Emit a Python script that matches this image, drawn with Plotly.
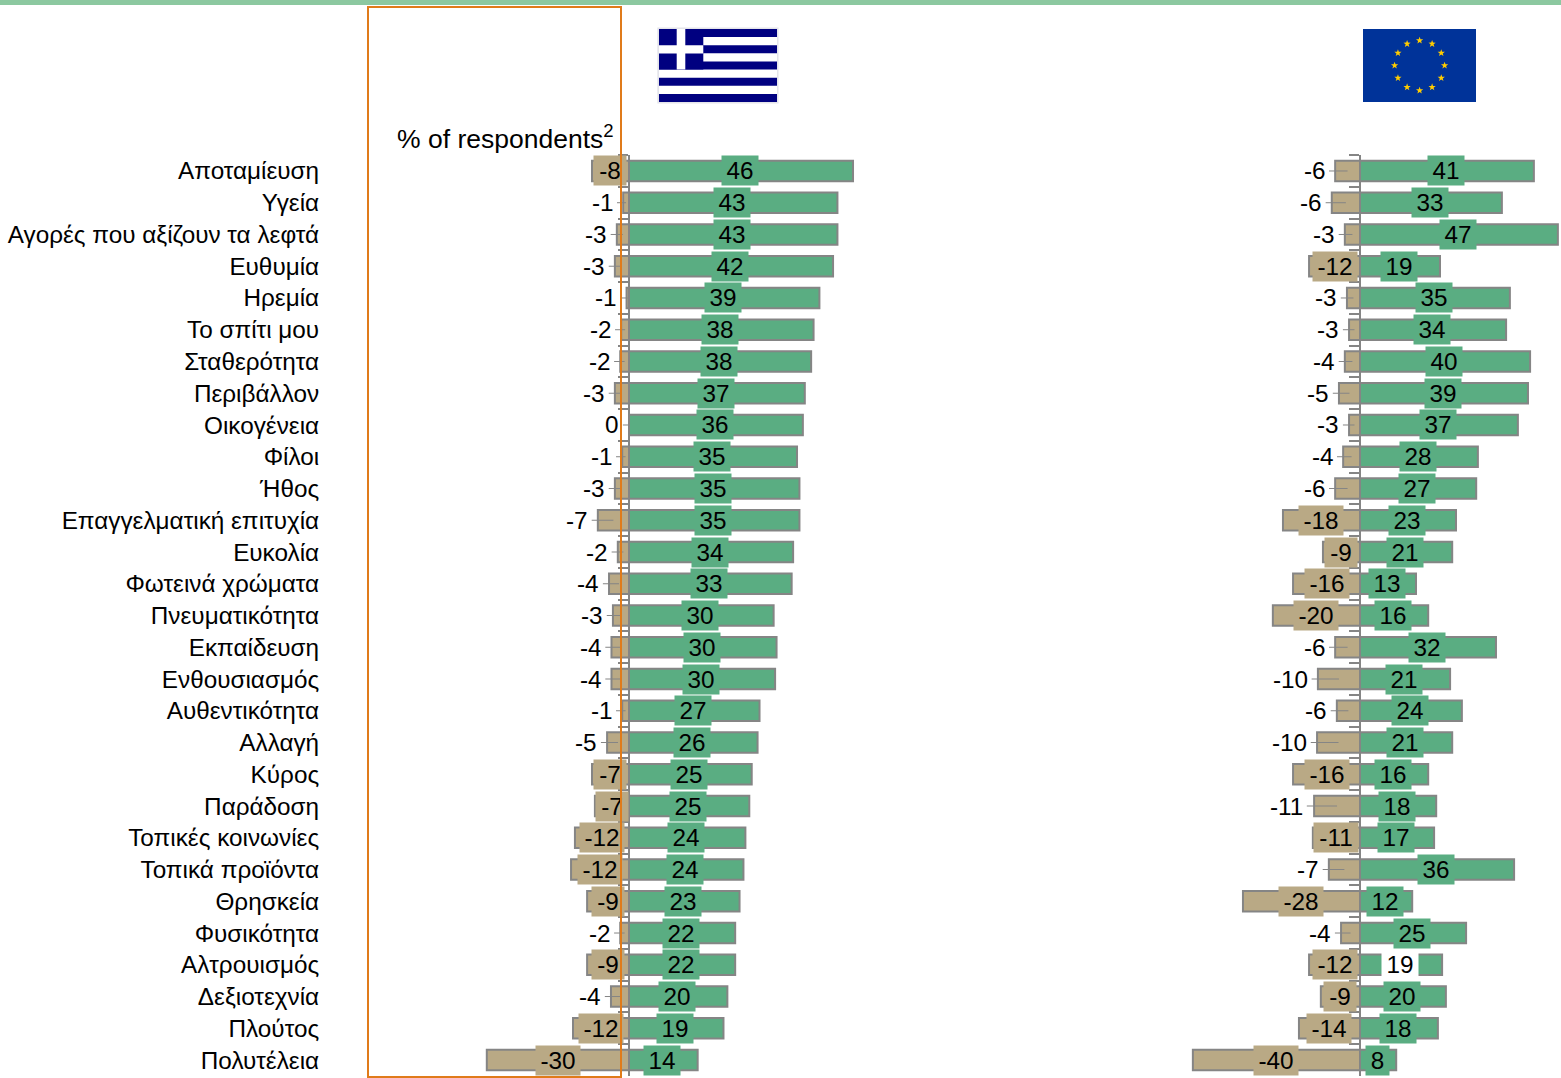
import math
import plotly.graph_objects as go

W, H = 1561, 1078

categories = ["Αποταμίευση", "Υγεία", "Αγορές που αξίζουν τα λεφτά", "Ευθυμία", "Ηρεμία", "Το σπίτι μου",
              "Σταθερότητα", "Περιβάλλον", "Οικογένεια", "Φίλοι", "Ήθος", "Επαγγελματική επιτυχία", "Ευκολία",
              "Φωτεινά χρώματα", "Πνευματικότητα", "Εκπαίδευση", "Ενθουσιασμός", "Αυθεντικότητα", "Αλλαγή",
              "Κύρος", "Παράδοση", "Τοπικές κοινωνίες", "Τοπικά προϊόντα", "Θρησκεία", "Φυσικότητα",
              "Αλτρουισμός", "Δεξιοτεχνία", "Πλούτος", "Πολυτέλεια"]

gr_pos = [46.0, 42.8, 42.8, 41.9, 39.1, 37.9, 37.4, 36.1, 35.7, 34.5, 35.0, 35.0, 33.7, 33.4, 29.7, 30.3, 30.0,
          26.8, 26.4, 25.2, 24.7, 23.9, 23.5, 22.7, 21.8, 21.8, 20.2, 19.4, 14.1]
gr_neg = [-7.6, -1.2, -2.5, -2.9, -0.5, -1.6, -1.8, -2.9, 0.0, -1.4, -2.9, -6.4, -2.3, -4.1, -3.3, -3.6, -3.6,
          -1.4, -4.5, -7.6, -7.0, -11.1, -11.9, -8.6, -1.8, -8.6, -3.7, -11.5, -29.2]
gr_pos_labels = [46, 43, 43, 42, 39, 38, 38, 37, 36, 35, 35, 35, 34, 33, 30, 30, 30, 27, 26, 25, 25, 24, 24, 23,
                 22, 22, 20, 19, 14]
gr_neg_labels = [-8, -1, -3, -3, -1, -2, -2, -3, 0, -1, -3, -7, -2, -4, -3, -4, -4, -1, -5, -7, -7, -12, -12, -9,
                 -2, -9, -4, -12, -30]

eu_pos = [41.3, 33.7, 47.0, 19.0, 35.6, 34.7, 40.4, 39.9, 37.5, 28.0, 27.6, 22.8, 21.9, 13.3, 16.2, 32.3, 21.4,
          24.2, 21.9, 16.2, 18.1, 17.6, 36.6, 12.4, 25.2, 19.5, 20.4, 18.5, 8.6]
eu_neg = [-5.9, -6.7, -3.6, -12.1, -3.1, -2.6, -3.6, -5.0, -2.6, -4.0, -5.9, -18.3, -8.8, -15.9, -20.7, -5.9,
          -10.0, -5.5, -10.2, -15.9, -10.9, -11.2, -7.4, -27.8, -4.5, -12.1, -9.3, -14.5, -39.7]
eu_pos_labels = [41, 33, 47, 19, 35, 34, 40, 39, 37, 28, 27, 23, 21, 13, 16, 32, 21, 24, 21, 16, 18, 17, 36, 12,
                 25, 19, 20, 18, 8]
eu_neg_labels = [-6, -6, -3, -12, -3, -3, -4, -5, -3, -4, -6, -18, -9, -16, -20, -6, -10, -6, -10, -16, -11, -11,
                 -7, -28, -4, -12, -9, -14, -40]
eu_white_label_row = "Αλτρουισμός"

axis_title = "% of respondents<sup>2</sup>"

GREEN, TAN, GREY = "#5AAD82", "#B9A985", "#858585"
FONT = "Liberation Sans"
FS = 24.3
PLOT_TOP, PLOT_BOT = 155.1, 1075.9


def px(x): return x / W
def py(y): return 1 - y / H


def rect(x0, y0, x1, y1, color):
    return dict(type="rect", xref="paper", yref="paper", x0=px(x0), x1=px(x1), y0=py(y0), y1=py(y1),
                fillcolor=color, line_width=0, layer="below")


def text_w(label):
    s = str(label)
    return 13.3 * sum(c.isdigit() for c in s) + 8 * ("-" in s)


def panel_annotations(pos, neg, pos_labels, neg_labels, xref, yref, scale):
    out = []
    for cat, p, n, pl, nl in zip(categories, pos, neg, pos_labels, neg_labels):
        box_p = 10 + 13 * len(str(pl))
        white = (xref == "x2" and cat == eu_white_label_row)
        out.append(dict(x=p / 2, y=cat, xref=xref, yref=yref, text=str(pl), showarrow=False, width=box_p, height=29,
                        xshift=-1, bgcolor="#FFFFFF" if white else GREEN, borderpad=0,
                        font=dict(family=FONT, size=FS, color="#000")))
        s = str(nl)
        box_n = 44 if len(s) == 3 else 32
        w = abs(n) * scale
        if w >= box_n + 2:
            out.append(dict(x=n / 2, y=cat, xref=xref, yref=yref, text=s, showarrow=False, width=box_n, height=29,
                            bgcolor=TAN, borderpad=0, font=dict(family=FONT, size=FS, color="#000")))
        else:
            out.append(dict(x=n / 2, y=cat, xref=xref, yref=yref, text=s, showarrow=True, arrowhead=0,
                            arrowwidth=1, arrowcolor=GREY, ax=-(w / 2 + text_w(s) / 2 + 10), ay=0, axref="pixel",
                            ayref="pixel", standoff=0, borderpad=3, font=dict(family=FONT, size=FS, color="#000")))
    return out


fig = go.Figure()
bar_style = dict(orientation="h", width=0.65, marker_line=dict(color=GREY, width=2), hoverinfo="skip", showlegend=False)
fig.add_bar(y=categories, x=gr_neg, marker_color=TAN, xaxis="x", yaxis="y", **bar_style)
fig.add_bar(y=categories, x=gr_pos, marker_color=GREEN, xaxis="x", yaxis="y", **bar_style)
fig.add_bar(y=categories, x=eu_neg, marker_color=TAN, xaxis="x2", yaxis="y2", **bar_style)
fig.add_bar(y=categories, x=eu_pos, marker_color=GREEN, xaxis="x2", yaxis="y2", **bar_style)

shapes = [rect(0, 0, W, 5, "#8CC8A0")]
# Greek flag
NAVY = "#000080"
shapes.append(rect(657.3, 27.5, 778.5, 103.5, "#E4E4EA"))
shapes.append(rect(659, 29, 777, 102, "#FFFFFF"))
for i in range(0, 9, 2):
    shapes.append(rect(659, 29 + i * 8.11, 777, 29 + (i + 1) * 8.11, NAVY))
shapes.append(rect(659, 29, 703.3, 69.5, NAVY))
shapes.append(rect(676.7, 29, 685.3, 69.5, "#FFFFFF"))
shapes.append(rect(659, 45.3, 703.3, 53.4, "#FFFFFF"))
# EU flag
shapes.append(rect(1363, 29, 1476, 102, "#003399"))
for k in range(12):
    a = math.radians(30 * k)
    cx, cy = 1419.6 + 25 * math.sin(a), 65.5 - 25 * math.cos(a)
    pts = []
    for j in range(10):
        r = 3.8 if j % 2 == 0 else 1.55
        b = math.radians(36 * j)
        pts.append((px(cx + r * math.sin(b)), py(cy - r * math.cos(b))))
    path = "M" + " L".join(f"{x:.5f},{y:.5f}" for x, y in pts) + " Z"
    shapes.append(dict(type="path", xref="paper", yref="paper", path=path, fillcolor="#FFCC00", line_width=0, layer="below"))

annotations = []
annotations += panel_annotations(gr_pos, gr_neg, gr_pos_labels, gr_neg_labels, "x", "y", 4.87)
annotations += panel_annotations(eu_pos, eu_neg, eu_pos_labels, eu_neg_labels, "x2", "y2", 4.21)
annotations.append(dict(xref="paper", yref="paper", x=px(616), y=py(137), xanchor="right", yanchor="middle",
                        text=axis_title, showarrow=False, font=dict(family=FONT, size=26.5, color="#000")))
# orange frame above everything
annotations.append(dict(xref="paper", yref="paper", x=px(367), y=py(6), xanchor="left", yanchor="top", text="\u00a0",
                        showarrow=False, width=251, height=1068, bordercolor="#E07B1A", borderwidth=2, borderpad=0))

L0, L1 = 440, 900
R0, R1 = 1150, 1561
Z_L, Z_R = 629, 1360
S_L, S_R = 4.87, 4.21
yaxis_common = dict(domain=[py(PLOT_BOT), py(PLOT_TOP)], type="category", categoryorder="array",
                    categoryarray=categories, range=[28.5, -0.5], anchor="free", showgrid=False, zeroline=False,
                    showline=True, linecolor=GREY, linewidth=2, ticks="outside", ticklen=10, tickwidth=2,
                    tickcolor=GREY, tickson="boundaries", fixedrange=True)
xaxis_common = dict(visible=False, showgrid=False, zeroline=False, fixedrange=True)

fig.update_layout(
    width=W, height=H, margin=dict(l=0, r=0, t=0, b=0), paper_bgcolor="#FFFFFF", plot_bgcolor="rgba(0,0,0,0)",
    barmode="relative", showlegend=False, font=dict(family=FONT, size=FS, color="#000"),
    xaxis=dict(domain=[px(L0), px(L1)], range=[(L0 - Z_L) / S_L, (L1 - Z_L) / S_L], anchor="y", **xaxis_common),
    xaxis2=dict(domain=[px(R0), px(R1)], range=[(R0 - Z_R) / S_R, (R1 - Z_R) / S_R], anchor="y2", **xaxis_common),
    yaxis=dict(position=px(Z_L), showticklabels=True, ticklabelstandoff=304,
               tickfont=dict(family=FONT, size=FS, color="#000"), **yaxis_common),
    yaxis2=dict(position=px(Z_R), showticklabels=False, **yaxis_common),
    shapes=shapes, annotations=annotations,
)

fig.write_html("out.html", config=dict(displayModeBar=False),
               post_script="document.body.style.margin='0';document.body.style.overflow='hidden';")
